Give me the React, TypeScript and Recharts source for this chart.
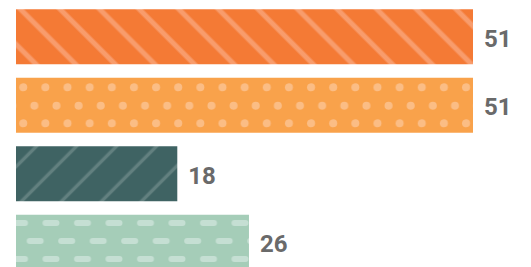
import { BarChart, Bar, XAxis, YAxis, Cell, LabelList } from 'recharts';

const categories = ['A', 'B', 'C', 'D'];
const values = [51, 51, 18, 26];
const patternIds = ['stripeOrange', 'dotsOrange', 'stripeTeal', 'dashMint'];

const data = categories.map((name, i) => ({ name, value: values[i] }));

function Patterns() {
  return (
    <svg width={0} height={0} style={{ position: 'absolute' }}>
      <defs>
        {/* \ stripes on deep orange */}
        <pattern id="stripeOrange" patternUnits="userSpaceOnUse" width={28} height={28} patternTransform="rotate(-45)">
          <rect width={28} height={28} fill="#F47A35" />
          <rect x={5.5} y={0} width={5} height={28} fill="#F89C6C" />
        </pattern>
        {/* staggered dots on light orange */}
        <pattern id="dotsOrange" patternUnits="userSpaceOnUse" width={22.14} height={36}>
          <rect width={22.14} height={36} fill="#F9A24B" />
          <circle cx={1.1} cy={15.3} r={4} fill="#FBBD85" />
          <circle cx={23.24} cy={15.3} r={4} fill="#FBBD85" />
          <circle cx={12.2} cy={33.7} r={4} fill="#FBBD85" />
          <circle cx={12.2} cy={-2.3} r={4} fill="#FBBD85" />
        </pattern>
        {/* / stripes on dark teal */}
        <pattern id="stripeTeal" patternUnits="userSpaceOnUse" width={28.3} height={28.3} patternTransform="rotate(45)">
          <rect width={28.3} height={28.3} fill="#3F6363" />
          <rect x={14.3} y={0} width={3.4} height={28.3} fill="#62807F" />
        </pattern>
        {/* dashes on mint */}
        <pattern id="dashMint" patternUnits="userSpaceOnUse" width={31.5} height={36}>
          <rect width={31.5} height={36} fill="#A5CDB8" />
          <rect x={11} y={4} width={17} height={6} rx={3} fill="#C5DFD3" />
          <rect x={26.7} y={22} width={17} height={6} rx={3} fill="#C5DFD3" />
          <rect x={-4.8} y={22} width={17} height={6} rx={3} fill="#C5DFD3" />
        </pattern>
      </defs>
    </svg>
  );
}

export default function App() {
  return (
    <div style={{ position: 'absolute', left: 0, top: 0 }}>
      <Patterns />
      <BarChart
        width={531}
        height={277}
        data={data}
        layout="vertical"
        margin={{ top: 2.25, right: 58, bottom: 0.75, left: 16 }}
      >
        <XAxis type="number" domain={[0, 51]} hide />
        <YAxis type="category" dataKey="name" hide />
        <Bar dataKey="value" barSize={55} isAnimationActive={false}>
          {data.map((entry, index) => (
            <Cell key={`cell-${index}`} fill={`url(#${patternIds[index]})`} />
          ))}
          <LabelList
            dataKey="value"
            position="right"
            offset={11}
            fill="#6a6a6a"
            dy={1.5}
            style={{ fontFamily: 'Roboto', fontWeight: 700, fontSize: 24 }}
          />
        </Bar>
      </BarChart>
    </div>
  );
}
